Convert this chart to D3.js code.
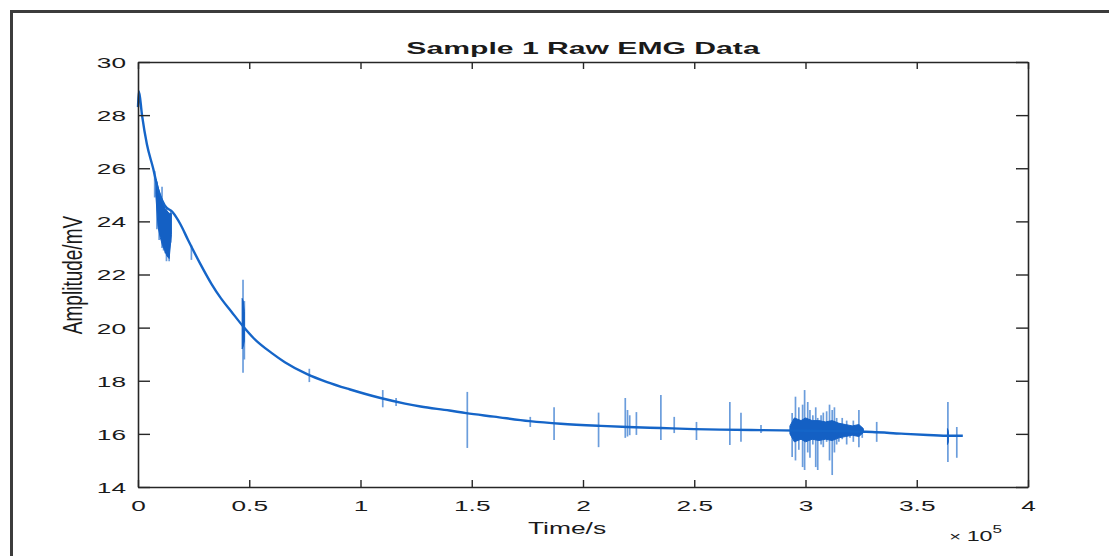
<!DOCTYPE html>
<html>
<head>
<meta charset="utf-8">
<script src="https://cdn.jsdelivr.net/npm/d3@7"></script>
<style>
  body { margin: 0; background: #fff; }
  svg { display: block; }
  text { font-family: "Liberation Sans", Arial, sans-serif; fill: #1a1a1a; }
</style>
</head>
<body>
<svg id="chart" width="1109" height="556"></svg>
<script>
// ---- data (time in units of 1e5 s, amplitude in mV) ----
var baseT = [0, 0.004, 0.018, 0.04, 0.068, 0.09, 0.12, 0.155, 0.19, 0.225, 0.28, 0.33, 0.373, 0.42, 0.472,
  0.52, 0.6, 0.66, 0.76, 0.85, 0.95, 1.09, 1.2, 1.27, 1.4, 1.475, 1.6, 1.76, 1.9, 2.08, 2.2, 2.35, 2.5,
  2.62, 2.8, 3.0, 3.2, 3.3, 3.43, 3.55, 3.65, 3.707];
var baseV = [28.3, 28.9, 28.0, 26.9, 26.0, 25.2, 24.6, 24.35, 23.9, 23.3, 22.4, 21.65, 21.1, 20.6, 20.05,
  19.6, 19.05, 18.7, 18.25, 17.95, 17.68, 17.35, 17.14, 17.03, 16.88, 16.78, 16.65, 16.48, 16.38, 16.3, 16.26,
  16.22, 16.18, 16.16, 16.14, 16.12, 16.1, 16.07, 16.01, 15.96, 15.93, 15.93];

// single spikes: time, lowest and highest value
var spikeT  = [0.075, 0.085, 0.095, 0.103, 0.108, 0.115, 0.122, 0.128, 0.134, 0.14, 0.147, 0.24,
  0.472, 0.478, 0.77, 1.1, 1.16, 1.48, 1.763, 1.87, 2.07, 2.19, 2.2, 2.21, 2.24, 2.35, 2.41, 2.51,
  2.66, 2.71, 2.8, 2.94, 2.955, 2.97, 2.987, 2.996, 3.01, 3.02, 3.033, 3.046, 3.055, 3.07, 3.08,
  3.095, 3.108, 3.12, 3.13, 3.14, 3.15, 3.165, 3.185, 3.2, 3.215, 3.24, 3.255, 3.32, 3.64, 3.68];
var spikeLo = [24.9, 23.7, 23.3, 23.4, 23.0, 22.9, 22.8, 22.5, 22.7, 22.5, 23.2, 22.55,
  18.3, 18.8, 17.95, 17.0, 17.05, 15.47, 16.26, 15.77, 15.5, 15.85, 15.9, 15.95, 15.96, 15.77, 16.03, 15.77,
  15.58, 15.7, 16.03, 15.13, 15.0, 15.4, 14.75, 14.64, 15.3, 15.1, 15.6, 14.75, 14.64, 15.6, 15.5,
  15.7, 15.0, 14.45, 15.3, 15.6, 15.7, 15.8, 15.6, 15.85, 15.7, 15.5, 15.85, 15.7, 14.94, 15.1];
var spikeHi = [25.9, 25.5, 25.1, 24.9, 25.3, 24.6, 24.4, 24.5, 24.3, 24.2, 24.4, 23.1,
  21.8, 21.0, 18.45, 17.65, 17.35, 17.58, 16.64, 17.0, 16.8, 17.35, 16.9, 16.7, 16.82, 17.46, 16.64, 16.45,
  17.2, 16.8, 16.33, 16.79, 17.4, 17.0, 17.1, 17.65, 17.2, 16.9, 16.7, 17.0, 16.6, 16.7, 16.8,
  16.85, 17.1, 16.9, 17.0, 16.6, 16.4, 16.6, 16.5, 16.3, 16.5, 16.9, 16.2, 16.45, 17.2, 16.26];

// dense dark cores of the bursts: time, lower and upper envelope
var coreT  = [0.08, 0.09, 0.10, 0.11, 0.12, 0.13, 0.14, 0.15, null,
  0.468, 0.473, 0.478, null,
  2.93, 2.95, 2.98, 3.0, 3.03, 3.06, 3.09, 3.12, 3.15, 3.18, 3.21, 3.24, 3.26, null,
  3.638, 3.642];
var coreLo = [25.0, 23.8, 23.4, 23.1, 22.9, 22.7, 22.6, 23.5, null,
  19.2, 19.3, 19.5, null,
  16.0, 15.7, 15.8, 15.7, 15.8, 15.75, 15.8, 15.75, 15.85, 15.9, 15.95, 15.9, 16.05, null,
  15.6, 15.7];
var coreHi = [25.6, 25.3, 25.0, 24.8, 24.5, 24.4, 24.3, 24.3, null,
  21.1, 21.0, 20.6, null,
  16.3, 16.6, 16.5, 16.6, 16.5, 16.5, 16.45, 16.5, 16.4, 16.35, 16.3, 16.35, 16.2, null,
  16.2, 16.1];

var xTicks = [0, 0.5, 1, 1.5, 2, 2.5, 3, 3.5, 4];
var yTicks = [14, 16, 18, 20, 22, 24, 26, 28, 30];

// ---- layout ----
var svg = d3.select('#chart');
var plotLeft = 138, plotRight = 1028, plotTop = 62, plotBottom = 487;
var sx = 1.75; // the picture is stretched sideways

var x = d3.scaleLinear().domain([0, 4]).range([plotLeft, plotRight]);
var y = d3.scaleLinear().domain([14, 30]).range([plotBottom, plotTop]);

// outer frame
svg.append('path')
  .attr('d', 'M11.5,560 L11.5,11.5 L1112,11.5')
  .attr('fill', 'none')
  .attr('stroke', '#3c3c3c')
  .attr('stroke-width', 3);

// light spikes
svg.append('g').selectAll('line')
  .data(spikeT)
  .enter().append('line')
  .attr('x1', function(d) { return x(d); })
  .attr('x2', function(d) { return x(d); })
  .attr('y1', function(d, i) { return y(spikeLo[i]); })
  .attr('y2', function(d, i) { return y(spikeHi[i]); })
  .attr('stroke', '#3a7cd0')
  .attr('stroke-opacity', 0.75)
  .attr('stroke-width', 1.7);

// dark burst cores
var area = d3.area()
  .defined(function(d) { return d.t !== null; })
  .x(function(d) { return x(d.t); })
  .y0(function(d) { return y(d.lo); })
  .y1(function(d) { return y(d.hi); });
var coreData = coreT.map(function(t, i) { return { t: t, lo: coreLo[i], hi: coreHi[i] }; });

svg.append('path')
  .datum(coreData)
  .attr('d', area)
  .attr('fill', '#1460c4')
  .attr('stroke', '#1460c4')
  .attr('stroke-width', 1);

// baseline trend
var line = d3.line()
  .curve(d3.curveMonotoneX)
  .x(function(d, i) { return x(baseT[i]); })
  .y(function(d) { return y(d); });
svg.append('path')
  .datum(baseV)
  .attr('d', line)
  .attr('fill', 'none')
  .attr('stroke', '#1565c8')
  .attr('stroke-width', 2.4);

// axes, MATLAB style box with inward ticks
function styleAxis(g) {
  g.select('.domain').attr('stroke', '#262626').attr('stroke-width', 1.6);
  g.selectAll('.tick line').attr('stroke', '#262626').attr('stroke-width', 1.4);
}
var gb = svg.append('g').attr('transform', 'translate(0,' + plotBottom + ')')
  .call(d3.axisBottom(x).tickValues(xTicks).tickSizeInner(-7).tickSizeOuter(0).tickFormat(d3.format('')));
gb.call(styleAxis);
gb.selectAll('.tick text')
  .attr('y', 24).attr('dy', null)
  .attr('font-size', 15).attr('font-family', null)
  .attr('transform', 'scale(' + sx + ',1)');

svg.append('g').attr('transform', 'translate(0,' + plotTop + ')')
  .call(d3.axisTop(x).tickValues(xTicks).tickSizeInner(-7).tickSizeOuter(0).tickFormat(''))
  .call(styleAxis);

var gl = svg.append('g').attr('transform', 'translate(' + plotLeft + ',0)')
  .call(d3.axisLeft(y).tickValues(yTicks).tickSizeInner(-12).tickSizeOuter(0));
gl.call(styleAxis);
gl.selectAll('.tick text')
  .attr('x', -12 / sx).attr('dy', '0.36em')
  .attr('font-size', 15).attr('font-family', null)
  .attr('transform', 'scale(' + sx + ',1)');

svg.append('g').attr('transform', 'translate(' + plotRight + ',0)')
  .call(d3.axisRight(y).tickValues(yTicks).tickSizeInner(-12).tickSizeOuter(0).tickFormat(''))
  .call(styleAxis);

// title and labels
svg.append('text')
  .attr('transform', 'translate(583,54) scale(1.85,1)')
  .attr('text-anchor', 'middle')
  .attr('font-size', 16.3)
  .attr('font-weight', 'bold')
  .text('Sample 1 Raw EMG Data');

svg.append('text')
  .attr('transform', 'translate(567,534) scale(1.65,1)')
  .attr('text-anchor', 'middle')
  .attr('font-size', 16)
  .text('Time/s');

svg.append('text')
  .attr('transform', 'translate(82,275) scale(1.5,1) rotate(-90)')
  .attr('text-anchor', 'middle')
  .attr('font-size', 19)
  .text('Amplitude/mV');

var expo = svg.append('text')
  .attr('transform', 'translate(1002,541) scale(1.55,1)')
  .attr('text-anchor', 'end')
  .attr('font-size', 15);
expo.append('tspan').attr('font-size', 13).text('\u00d7 ');
expo.append('tspan').text('10');
expo.append('tspan').attr('font-size', 11).attr('dy', -8).text('5');
</script>
</body>
</html>
